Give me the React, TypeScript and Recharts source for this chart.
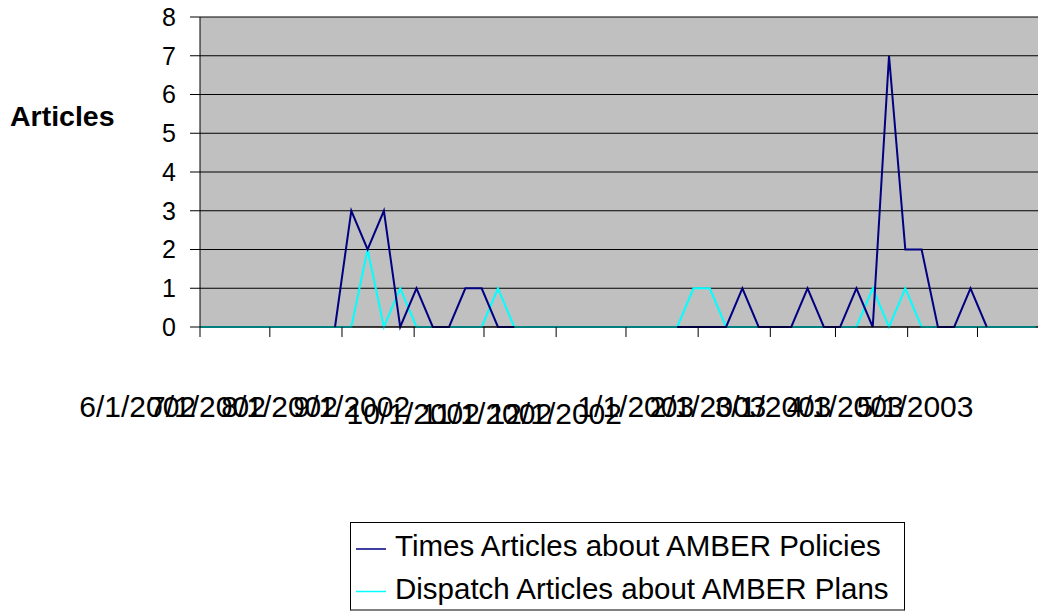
import React from 'react';
import { LineChart, Line, XAxis, YAxis, CartesianGrid, Legend, Label } from 'recharts';

const FONT = '"Liberation Sans", Arial, sans-serif';

// Weekly observation dates
const weekDates = [
  '2002-06-01', '2002-06-03', '2002-06-10', '2002-06-17', '2002-06-24',
  '2002-07-01', '2002-07-08', '2002-07-15', '2002-07-22', '2002-07-29',
  '2002-08-05', '2002-08-12', '2002-08-19', '2002-08-26',
  '2002-09-02', '2002-09-09', '2002-09-16', '2002-09-23', '2002-09-30',
  '2002-10-07', '2002-10-14', '2002-10-21', '2002-10-28',
  '2002-11-04', '2002-11-11', '2002-11-18', '2002-11-25',
  '2002-12-02', '2002-12-09', '2002-12-16', '2002-12-23', '2002-12-30',
  '2003-01-06', '2003-01-13', '2003-01-20', '2003-01-27',
  '2003-02-03', '2003-02-10', '2003-02-17', '2003-02-24',
  '2003-03-03', '2003-03-10', '2003-03-17', '2003-03-24', '2003-03-31',
  '2003-04-07', '2003-04-14', '2003-04-21', '2003-04-28',
  '2003-05-05', '2003-05-12', '2003-05-19', '2003-05-26',
];

// Times Articles about AMBER Policies (null = no entry)
const timesArticles: (number | null)[] = [
  null, null, null, null, null,
  null, null, null, null, 0,
  3, 2, 3, 0,
  1, 0, 0, 1, 1,
  0, 0, null, null,
  null, null, null, null,
  null, null, null, 0, 0,
  0, 0, 1, 0,
  0, 0, 1, 0,
  0, 1, 0, 7, 2,
  2, 0, 0, 1,
  0, null, null, null,
];

// Dispatch Articles about AMBER Plans
const dispatchArticles: (number | null)[] = [
  0, 0, 0, 0, 0,
  0, 0, 0, 0, 0,
  0, 2, 0, 1,
  0, 0, 0, 0, 0,
  1, 0, 0, 0,
  0, 0, 0, 0,
  0, 0, 0, 0, 1,
  1, 0, 0, 0,
  0, 0, 0, 0,
  0, 0, 1, 0, 1,
  0, 0, 0, 0,
  0, 0, 0, 0,
];

const monthTicks = [
  '2002-06-01', '2002-07-01', '2002-08-01', '2002-09-01', '2002-10-01', '2002-11-01',
  '2002-12-01', '2003-01-01', '2003-02-01', '2003-03-01', '2003-04-01', '2003-05-01',
];
const loweredTicks = ['2002-10-01', '2002-11-01', '2002-12-01'];
const axisEnd = '2003-05-27';
const yTicks = [0, 1, 2, 3, 4, 5, 6, 7, 8];

const seriesNames = {
  times: 'Times Articles about AMBER Policies',
  dispatch: 'Dispatch Articles about AMBER Plans',
};
const legendOrder = [seriesNames.times, seriesNames.dispatch];

const START = Date.UTC(2002, 5, 1);
const DAY = 86400000;
const dayOf = (s: string) => (Date.parse(s + 'T00:00:00Z') - START) / DAY;

const data = weekDates.map((d, i) => ({
  day: dayOf(d),
  times: timesArticles[i],
  dispatch: dispatchArticles[i],
}));
const tickDays = monthTicks.map(dayOf);
const loweredDays = loweredTicks.map(dayOf);

const fmt = (day: number) => {
  const dt = new Date(START + day * DAY);
  return `${dt.getUTCMonth() + 1}/${dt.getUTCDate()}/${dt.getUTCFullYear()}`;
};

const XTick = (props: any) => {
  const { x, y, payload } = props;
  const lowered = loweredDays.includes(payload.value);
  return (
    <text
      x={x - 4}
      y={y + (lowered ? 87 : 80)}
      textAnchor="end"
      fontSize={30}
      fontFamily={FONT}
      fill="#000"
    >
      {fmt(payload.value)}
    </text>
  );
};

const LegendBox = (props: any) => {
  const payload = [...(props.payload || [])].sort(
    (a: any, b: any) => legendOrder.indexOf(a.value) - legendOrder.indexOf(b.value)
  );
  return (
    <div
      style={{
        width: 555,
        height: 89,
        border: '1px solid #000',
        borderBottom: '2px solid #808080',
        background: '#fff',
        boxSizing: 'border-box',
      }}
    >
      <svg width={553} height={87} style={{ display: 'block' }}>
        {payload.map((p: any, i: number) => (
          <g key={p.value}>
            <line x1={5} x2={35} y1={26 + i * 42.5} y2={26 + i * 42.5} stroke={p.color} strokeWidth={1.5} />
            <text x={44} y={33 + i * 43} fontSize={29.5} fontFamily={FONT} fill="#000">
              {p.value}
            </text>
          </g>
        ))}
      </svg>
    </div>
  );
};

export default function App() {
  return (
    <div style={{ position: 'absolute', left: 0, top: 0, width: 1039, height: 615, background: '#fff' }}>
      <LineChart
        width={1039}
        height={615}
        data={data}
        margin={{ top: 17, right: 1, left: 0, bottom: 228 }}
      >
        <CartesianGrid
          horizontal
          vertical={false}
          stroke="#000"
          strokeOpacity={1}
          fill="#C0C0C0"
          fillOpacity={1}
        />
        <XAxis
          dataKey="day"
          type="number"
          domain={[0, dayOf(axisEnd)]}
          ticks={tickDays}
          interval={0}
          allowDataOverflow
          height={60}
          tickSize={10}
          tickMargin={0}
          stroke="#000"
          tickLine={{ stroke: '#000' }}
          tick={<XTick />}
        />
        <YAxis
          type="number"
          domain={[0, 8]}
          ticks={yTicks}
          interval={0}
          width={200}
          tickSize={10}
          tickMargin={14}
          stroke="#000"
          tick={{ fontSize: 25, fill: '#000', fontFamily: FONT }}
        >
          <Label
            content={(p: any) => (
              <text
                x={(p.viewBox?.x ?? 0) + 10}
                y={(p.viewBox?.y ?? 17) + 109}
                fontSize={28.5}
                fontWeight="bold"
                fontFamily={FONT}
                fill="#000"
              >
                Articles
              </text>
            )}
          />
        </YAxis>
        <Legend
          layout="vertical"
          align="center"
          verticalAlign="middle"
          content={<LegendBox />}
          wrapperStyle={{ position: 'absolute', left: 350, top: 522, width: 555, height: 89 }}
        />
        <Line
          type="linear"
          dataKey="dispatch"
          name={seriesNames.dispatch}
          stroke="#00FFFF"
          strokeWidth={2}
          dot={false}
          activeDot={false}
          connectNulls={false}
          isAnimationActive={false}
        />
        <Line
          type="linear"
          dataKey="times"
          name={seriesNames.times}
          stroke="#000080"
          strokeWidth={2}
          dot={false}
          activeDot={false}
          connectNulls={false}
          isAnimationActive={false}
        />
      </LineChart>
    </div>
  );
}
